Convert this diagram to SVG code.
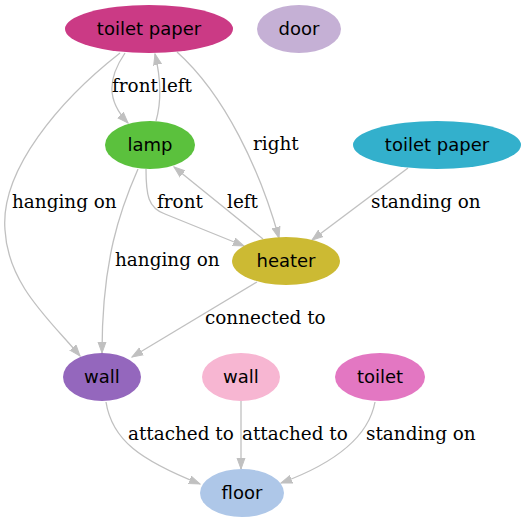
<svg xmlns="http://www.w3.org/2000/svg" width="526" height="523" viewBox="0 0 526 523">
<style>
.n text{font-family:"DejaVu Sans",sans-serif;font-size:18px;text-anchor:middle;fill:#000}
.e path{fill:none;stroke:#c0c0c0;stroke-width:1.3}
.e text{font-family:"DejaVu Serif",serif;font-size:18.4px;fill:#000}
</style>
<defs>
<marker id="a" markerUnits="userSpaceOnUse" markerWidth="12" markerHeight="10" refX="11" refY="4" orient="auto" viewBox="0 0 12 8">
<path d="M0,0 L11,4 L0,8 z" fill="#c0c0c0" stroke="#c0c0c0"/>
</marker>
</defs>
<rect width="526" height="523" fill="#fff"/>
<g class="e" id="edges">
<path d="M125,53 C108,78 106,100 128,123" marker-end="url(#a)"/>
<path d="M156,121 C162,100 160,75 155,54" marker-end="url(#a)"/>
<path d="M120,53 C60,100 0,170 5,230 C8,285 50,320 80,356" marker-end="url(#a)"/>
<path d="M177,52 C225,95 260,170 279,238" marker-end="url(#a)"/>
<path d="M146,169 C146,195 148,208 165,214 L244,246" marker-end="url(#a)"/>
<path d="M263,239 L174,167" marker-end="url(#a)"/>
<path d="M138,169 C120,210 102,260 102,353" marker-end="url(#a)"/>
<path d="M408,168 L312,240" marker-end="url(#a)"/>
<path d="M257,282 L132,357" marker-end="url(#a)"/>
<path d="M106,402 C112,440 140,460 200,484" marker-end="url(#a)"/>
<path d="M241,401 L241,469" marker-end="url(#a)"/>
<path d="M375,402 C368,440 330,465 281,483" marker-end="url(#a)"/>
<text x="112" y="92">front</text>
<text x="161" y="92">left</text>
<text x="253" y="150">right</text>
<text x="12" y="208">hanging on</text>
<text x="157" y="208">front</text>
<text x="227" y="208">left</text>
<text x="371" y="208">standing on</text>
<text x="115" y="266">hanging on</text>
<text x="205" y="324">connected to</text>
<text x="128" y="440">attached to</text>
<text x="242" y="440">attached to</text>
<text x="366" y="440">standing on</text>
</g>
<g class="n" id="n1"><ellipse cx="149" cy="29" rx="84" ry="24" fill="#cb3a85"/><text x="149" y="35">toilet paper</text></g>
<g class="n" id="n2"><ellipse cx="299" cy="29" rx="42" ry="24" fill="#c5b0d5"/><text x="299" y="35">door</text></g>
<g class="n" id="n3"><ellipse cx="150" cy="145" rx="45" ry="24" fill="#5bc13d"/><text x="150" y="151">lamp</text></g>
<g class="n" id="n4"><ellipse cx="437" cy="145" rx="84" ry="24" fill="#33b0cc"/><text x="437" y="151">toilet paper</text></g>
<g class="n" id="n5"><ellipse cx="286" cy="261" rx="54" ry="24" fill="#ccba33"/><text x="286" y="267">heater</text></g>
<g class="n" id="n6"><ellipse cx="102" cy="377" rx="39" ry="24" fill="#9467bd"/><text x="102" y="383">wall</text></g>
<g class="n" id="n7"><ellipse cx="241" cy="377" rx="39" ry="24" fill="#f7b6d2"/><text x="241" y="383">wall</text></g>
<g class="n" id="n8"><ellipse cx="380" cy="377" rx="45" ry="24" fill="#e377c2"/><text x="380" y="383">toilet</text></g>
<g class="n" id="n9"><ellipse cx="242" cy="493" rx="42" ry="24" fill="#aec7e8"/><text x="242" y="499">floor</text></g>
</svg>
